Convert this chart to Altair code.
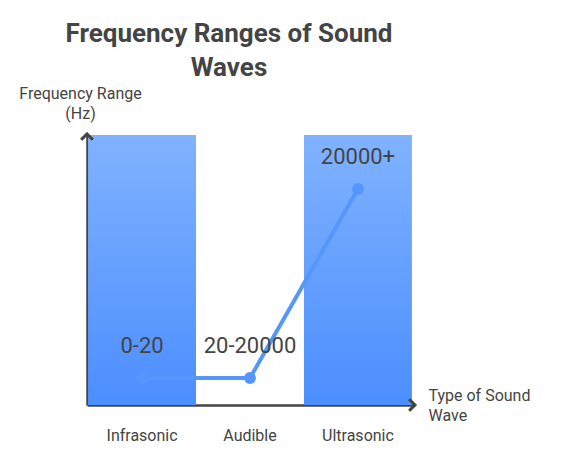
import altair as alt
import pandas as pd

categories = ["Infrasonic", "Audible", "Ultrasonic"]
bar_values = [100, None, 100]
line_values = [10, 10, 80]
labels = ["0-20", "20-20000", "20000+"]

df = pd.DataFrame({
    "type": categories,
    "bar": bar_values,
    "val": line_values,
    "label": labels,
})

FONT = "Roboto"
TXT = "#444444"

x_enc = alt.X(
    "type:N",
    sort=categories,
    scale=alt.Scale(paddingInner=0, paddingOuter=0.01),
    axis=alt.Axis(
        title=["Type of Sound", "Wave"],
        titleAngle=0,
        titleAlign="left",
        titleBaseline="alphabetic",
        titleX=341,
        titleY=-5,
        titleFont=FONT,
        titleFontSize=16,
        titleFontWeight="normal",
        titleColor=TXT,
        titleLineHeight=20,
        labelAngle=0,
        labelFont=FONT,
        labelFontSize=16,
        labelColor=TXT,
        labelPadding=22,
        ticks=False,
        domainColor=TXT,
        domainWidth=2.5,
        grid=False,
    ),
)

y_scale = alt.Scale(domain=[0, 100], nice=False)

bars = alt.Chart(df).mark_bar(
    color=alt.Gradient(
        gradient="linear",
        stops=[alt.GradientStop(color="#80b2ff", offset=0),
               alt.GradientStop(color="#4b8efe", offset=1)],
        x1=0, x2=0, y1=0, y2=1,
    ),
).encode(
    x=x_enc,
    y=alt.Y(
        "bar:Q",
        scale=y_scale,
        axis=alt.Axis(
            title=["Frequency Range", "(Hz)"],
            titleAngle=0,
            titleAlign="center",
            titleBaseline="alphabetic",
            titleX=-7,
            titleY=-37,
            titleFont=FONT,
            titleFontSize=16,
            titleFontWeight="normal",
            titleColor=TXT,
            titleLineHeight=20,
            labels=False,
            ticks=False,
            grid=False,
            domainColor=TXT,
            domainWidth=2.5,
        ),
    ),
)

line = alt.Chart(df).mark_line(color="#5596fd", strokeWidth=4).encode(
    x=alt.X("type:N", sort=categories),
    y=alt.Y("val:Q", scale=y_scale),
)

pts = alt.Chart(df).mark_circle(color="#5596fd", size=140, opacity=1).encode(
    x=alt.X("type:N", sort=categories),
    y=alt.Y("val:Q", scale=y_scale),
)

text = alt.Chart(df).mark_text(
    font=FONT, fontSize=22, color=TXT, dy=-32, baseline="middle"
).encode(
    x=alt.X("type:N", sort=categories),
    y=alt.Y("val:Q", scale=y_scale),
    text="label:N",
)

# axis arrowheads
arrow_y = alt.Chart(df).mark_point(
    shape="M-1,1L0,0L1,1", size=130, filled=False, stroke=TXT, strokeWidth=2.5, opacity=1
).encode(x=alt.value(0), y=alt.value(-1))

arrow_x = alt.Chart(df).mark_point(
    shape="M-1,-1L0,0L-1,1", size=130, filled=False, stroke=TXT, strokeWidth=2.5, opacity=1
).encode(x=alt.value(328), y=alt.value(270))

chart = alt.layer(bars, line, pts, text, arrow_y, arrow_x).properties(
    width=326,
    height=270,
    title=alt.TitleParams(
        text=["Frequency Ranges of Sound", "Waves"],
        font=FONT,
        fontSize=26,
        fontWeight="bold",
        color=TXT,
        lineHeight=34,
        anchor="middle",
        dx=-21,
        offset=4,
    ),
    autosize=alt.AutoSizeParams(type="none"),
    padding={"left": 79, "top": 127, "right": 140, "bottom": 50},
).configure_view(stroke=None)

chart.save("out.html", embed_options={"renderer": "svg", "actions": False})
